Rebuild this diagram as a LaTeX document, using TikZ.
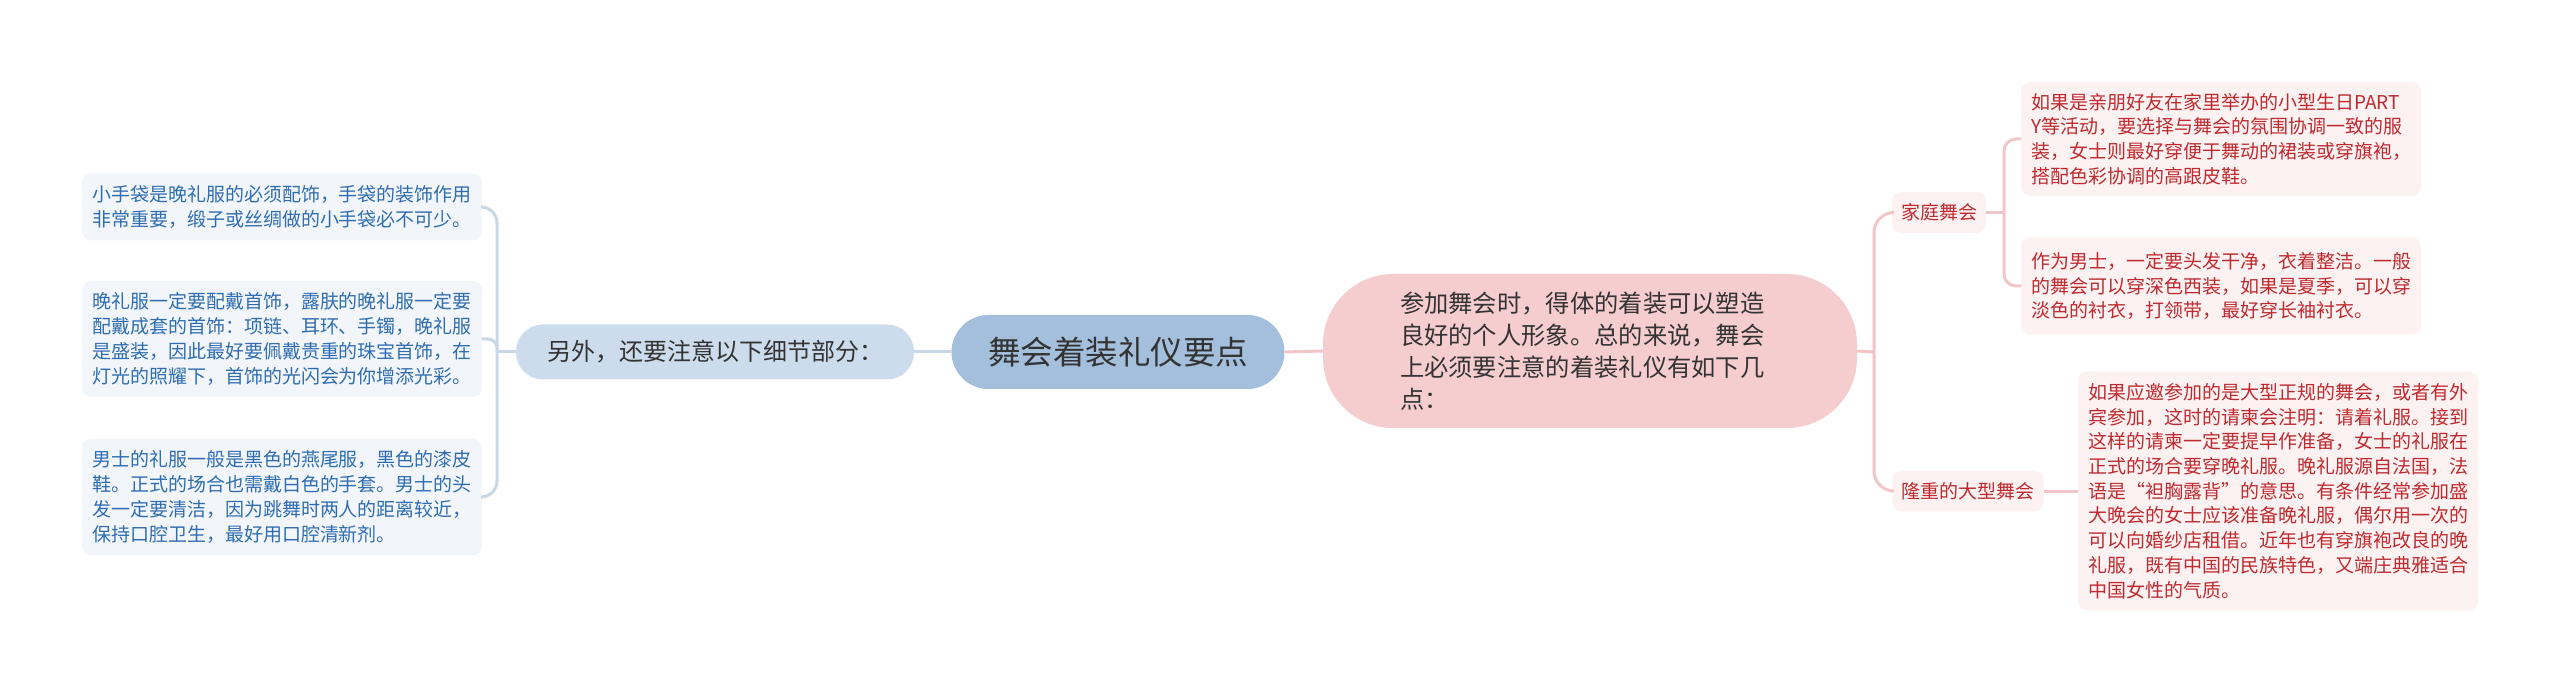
\documentclass[tikz,border=0pt]{standalone}
\usepackage{fontspec}
\setmainfont{Noto Sans CJK SC}
\definecolor{rootfill}{HTML}{A3BFDC}
\definecolor{lcfill}{HTML}{CCDCEC}
\definecolor{pinkfill}{HTML}{F6CDCE}
\definecolor{bleaf}{HTML}{F2F6FB}
\definecolor{btext}{HTML}{2F6DB0}
\definecolor{rleaf}{HTML}{FDF2F2}
\definecolor{rtext}{HTML}{BE2A2F}
\definecolor{bline}{HTML}{C8D8E8}
\definecolor{rline}{HTML}{F2C6C8}
\definecolor{dtext}{HTML}{333333}
\begin{document}
\begin{tikzpicture}[x=1pt,y=-1pt,
  every node/.style={inner sep=0pt, outer sep=0pt},
  bconn/.style={draw=bline, line width=3pt},
  rconn/.style={draw=rline, line width=3pt},
  rootbox/.style={fill=rootfill, text=dtext, rounded corners=37pt, minimum width=333pt, minimum height=74pt, font=\fontsize{32.5}{38}\selectfont},
  lcbox/.style={fill=lcfill, text=dtext, rounded corners=27pt, minimum width=398pt, minimum height=55pt, font=\fontsize{24}{28}\selectfont},
  pinkbox/.style={fill=pinkfill, text=dtext, rounded corners=70pt, minimum width=534pt, minimum height=154pt, text width=380pt, align=left, font=\fontsize{24.3}{32}\selectfont},
  bleafbox/.style={fill=bleaf, text=btext, rounded corners=9pt, inner xsep=10pt, text width=380pt, align=left, font=\fontsize{19}{24.7}\selectfont},
  rleafbox/.style={fill=rleaf, text=rtext, rounded corners=9pt, inner xsep=10pt, text width=380pt, align=left, font=\fontsize{19}{24.7}\selectfont},
  rlabel/.style={fill=rleaf, text=rtext, rounded corners=9pt, minimum height=41pt, inner xsep=9pt, font=\fontsize{19}{24}\selectfont}
]
\useasboundingbox[fill=white] (0,0) rectangle (2560,692);

% central nodes
\node[rootbox] (root) at (1118,352) {舞会着装礼仪要点};
\node[lcbox] (lc) at (715,352) {另外，还要注意以下细节部分：};
\node[pinkbox] (pk) at (1590,351) {参加舞会时，得体的着装可以塑造\\良好的个人形象。总的来说，舞会\\上必须要注意的着装礼仪有如下几\\点：};

% left leaves
\node[bleafbox, minimum height=67pt] (ll1) at (282,207) {小手袋是晚礼服的必须配饰，手袋的装饰作用\\非常重要，缎子或丝绸做的小手袋必不可少。};
\node[bleafbox, minimum height=116pt] (ll2) at (282,339) {晚礼服一定要配戴首饰，露肤的晚礼服一定要\\配戴成套的首饰：项链、耳环、手镯，晚礼服\\是盛装，因此最好要佩戴贵重的珠宝首饰，在\\灯光的照耀下，首饰的光闪会为你增添光彩。};
\node[bleafbox, minimum height=116pt] (ll3) at (282,497) {男士的礼服一般是黑色的燕尾服，黑色的漆皮\\鞋。正式的场合也需戴白色的手套。男士的头\\发一定要清洁，因为跳舞时两人的距离较近，\\保持口腔卫生，最好用口腔清新剂。};

% right labels
\node[rlabel] (jia) at (1939,212.5) {家庭舞会};
\node[rlabel] (long) at (1968,491) {隆重的大型舞会};

% right leaves
\node[rleafbox, minimum height=114pt] (rl1) at (2221,139) {如果是亲朋好友在家里举办的小型生日PART\\Y等活动，要选择与舞会的氛围协调一致的服\\装，女士则最好穿便于舞动的裙装或穿旗袍，\\搭配色彩协调的高跟皮鞋。};
\node[rleafbox, minimum height=97pt] (rl2) at (2221,286) {作为男士，一定要头发干净，衣着整洁。一般\\的舞会可以穿深色西装，如果是夏季，可以穿\\淡色的衬衣，打领带，最好穿长袖衬衣。};
\node[rleafbox, minimum height=239pt] (rl3) at (2278,491) {如果应邀参加的是大型正规的舞会，或者有外\\宾参加，这时的请柬会注明：请着礼服。接到\\这样的请柬一定要提早作准备，女士的礼服在\\正式的场合要穿晚礼服。晚礼服源自法国，法\\语是“袒胸露背”的意思。有条件经常参加盛\\大晚会的女士应该准备晚礼服，偶尔用一次的\\可以向婚纱店租借。近年也有穿旗袍改良的晚\\礼服，既有中国的民族特色，又端庄典雅适合\\中国女性的气质。};

% junctions
\coordinate (jl) at (497,352);
\coordinate (jr) at (1874,352);
\coordinate (jj) at (2004,212.5);

% connectors
\draw[bconn] (root.west) -- (lc.east);
\draw[bconn] (lc.west) -- (jl);
\draw[bconn, rounded corners=16pt] (jl) |- (ll1.east);
\draw[bconn, rounded corners=9pt] (jl) |- (ll2.east);
\draw[bconn, rounded corners=16pt] (jl) |- (ll3.east);

\draw[rconn] (root.east) -- (pk.west);
\draw[rconn] (pk.east) -- (jr);
\draw[rconn, rounded corners=20pt] (jr) |- (jia.west);
\draw[rconn, rounded corners=20pt] (jr) |- (long.west);
\draw[rconn] (jia.east) -- (jj);
\draw[rconn, rounded corners=12pt] (jj) |- (rl1.west);
\draw[rconn, rounded corners=12pt] (jj) |- (rl2.west);
\draw[rconn] (long.east) -- (rl3.west);
\end{tikzpicture}
\end{document}
